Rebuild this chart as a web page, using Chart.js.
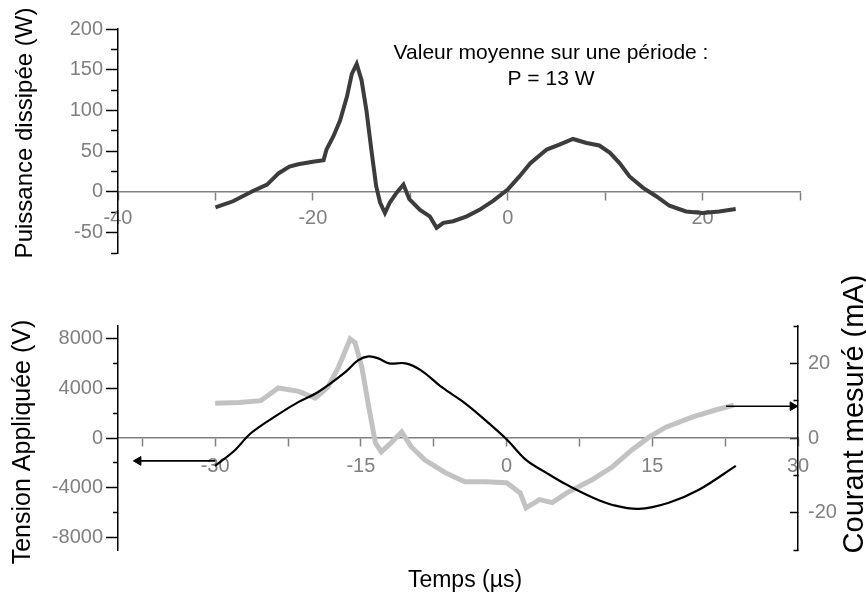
<!DOCTYPE html>
<html><head><meta charset="utf-8">
<script src="https://cdn.jsdelivr.net/npm/chart.js@4/dist/chart.umd.min.js"></script>
<style>
html,body{margin:0;padding:0;background:#fff;}
#wrap{position:relative;width:866px;height:594px;overflow:hidden;}
canvas{position:absolute;left:0;}
#c1{top:0}
#c2{top:262px}
</style></head><body>
<div id="wrap"><canvas id="c2" width="866" height="332"></canvas><canvas id="c1" width="866" height="290"></canvas></div>
<script>
// ---------- Data: top panel (dissipated power) ----------
const powerTime = [-30, -28.2, -26.2, -24.7, -23.5, -22.4, -21.5, -20, -18.9, -18.6, -17.9, -17.2, -16.5, -16, -15.5, -15, -14.5, -14, -13.5, -13.1, -12.6, -12.1, -11.4, -10.7, -10.1, -9, -8, -7.3, -6.6, -5.6, -4.2, -2.9, -1.5, 0, 1.2, 2.3, 4, 5.3, 6.7, 8.1, 9.4, 10.5, 11.5, 12.5, 13.9, 15.2, 16.6, 18.3, 20, 21.7, 23.4];
const powerW    = [-19, -11.5, 0.8, 9, 23, 31, 34, 37, 39, 52, 68, 88, 117, 145, 157, 137, 100, 52, 7, -13, -26, -13, -1, 9, -9, -22, -30, -44, -38, -36, -30, -22, -11, 3, 19, 35, 52, 58, 65, 60, 57, 48, 35, 19, 5, -5, -17, -24, -26, -24, -21];

// ---------- Data: bottom panel ----------
const voltTime = [-30, -28, -26.3, -23.5, -21.4, -19.4, -16.6, -15.3, -14.2, -13.2, -12.1, -10.4, -8.8, -6.7, -4.3, -2.2, 0, 2, 4.1, 6.2, 8.9, 11, 13.6, 16.7, 19.8, 23.6];
const voltV    = [-2240, -1000, 400, 1900, 2900, 3700, 5300, 6240, 6560, 6400, 6000, 6000, 5440, 4100, 2800, 1440, -100, -1760, -2800, -3760, -4800, -5400, -5700, -5200, -4160, -2240];

const currTime = [-30, -27.5, -25.3, -23.5, -21.4, -19.7, -18.4, -17.3, -16.1, -15.6, -14.9, -14.2, -13.5, -12.9, -11.9, -10.8, -9.8, -8.4, -6.3, -4.3, -2.2, 0, 1.4, 2, 3.4, 4.7, 6.2, 8.8, 10.9, 12.9, 14.7, 16.4, 19.1, 21.5, 23.4];
const currmA   = [9.3, 9.5, 10, 13.4, 12.5, 10.7, 13.6, 19, 26.5, 25.5, 19, 8.5, -1.3, -3.7, -1.3, 1.6, -2.4, -5.9, -9.3, -11.7, -11.7, -12, -14.7, -18.7, -16.5, -17.3, -14.7, -11.2, -7.7, -3.2, 0.3, 2.9, 5.6, 7.5, 8.8];

// Arrows (which axis each curve belongs to)
const arrowVoltTime = [-30, -37.9];
const arrowVoltV = [-1840, -1840];
const arrowCurrTime = [22.6, 29.45];
const arrowCurrmA = [8.5, 8.5];

// ---------- Ticks ----------
const topXTicks = [-40, -30, -20, -10, 0, 10, 20, 30];
const topXLabels = [-40, -20, 0, 20];
const topYTicks = [-75, -50, -25, 0, 25, 50, 75, 100, 125, 150, 175, 200];
const topYLabels = [-50, 0, 50, 100, 150, 200];
const botXTicks = [-37.5, -30, -22.5, -15, -7.5, 0, 7.5, 15, 22.5, 30];
const botXLabels = [-30, -15, 0, 15, 30];
const voltTicks = [-8000, -6000, -4000, -2000, 0, 2000, 4000, 6000, 8000];
const voltLabels = [-8000, -4000, 0, 4000, 8000];
const currTicks = [-30, -20, -10, 0, 10, 20, 30];
const currLabels = [-20, 0, 20];

const toXY = (xs, ys) => xs.map((x, i) => ({x: x, y: ys[i]}));
const setTicks = list => (scale => { scale.ticks = list.map(v => ({value: v})); });
const labeler = list => (v => list.includes(v) ? String(v) : '');
const minorDash = (list, dash) => (ctx => (ctx.tick && !list.includes(ctx.tick.value)) ? dash : []);

const FONT = '"Liberation Sans", Arial, sans-serif';
Chart.defaults.font.family = FONT;
const GRAY = '#808080';

const textPlugin = {
  id: 'texts',
  afterDraw(chart, args, opts) {
    const ctx = chart.ctx;
    (opts.items || []).forEach(it => {
      ctx.save();
      ctx.font = it.font;
      ctx.fillStyle = it.color || '#000';
      ctx.textAlign = 'center';
      ctx.textBaseline = it.baseline || 'middle';
      ctx.translate(it.x, it.y);
      if (it.rotate) ctx.rotate(it.rotate);
      ctx.fillText(it.text, 0, 0);
      ctx.restore();
    });
  }
};

const tickFont = {family: FONT, size: 20};

// ---------- Top chart ----------
new Chart(document.getElementById('c1'), {
  type: 'line',
  data: {
    datasets: [{
      data: toXY(powerTime, powerW),
      borderColor: '#3c3c3c',
      borderWidth: 4,
      pointRadius: 0,
      tension: 0
    }]
  },
  options: {
    responsive: false,
    animation: false,
    events: [],
    layout: {padding: {left: 0, right: 66, top: 29, bottom: 37}},
    plugins: {
      legend: {display: false},
      tooltip: {enabled: false},
      texts: {items: [
        {text: 'Puissance dissipée (W)', x: 25, y: 133, rotate: -Math.PI / 2, font: '24px ' + FONT},
        {text: 'Valeur moyenne sur une période :', x: 551, y: 59, baseline: 'alphabetic', font: '21px ' + FONT},
        {text: 'P = 13 W', x: 551, y: 85, baseline: 'alphabetic', font: '21px ' + FONT}
      ]}
    },
    scales: {
      x: {
        type: 'linear', min: -40, max: 30,
        position: {y: 0},
        afterBuildTicks: setTicks(topXTicks),
        border: {display: true, color: GRAY, width: 1.5},
        grid: {drawOnChartArea: false, drawTicks: true, tickLength: 8, tickColor: GRAY, tickWidth: 1.5},
        ticks: {callback: labeler(topXLabels), color: GRAY, font: tickFont, padding: 7, autoSkip: false, maxRotation: 0}
      },
      y: {
        type: 'linear', min: -75, max: 200,
        position: 'left',
        afterBuildTicks: setTicks(topYTicks),
        afterFit: s => { s.width = 118; },
        border: {display: true, color: '#000', width: 1.5},
        grid: {drawOnChartArea: false, drawTicks: true, tickLength: 12, tickColor: '#000', tickWidth: 1.5,
               tickBorderDash: minorDash(topYLabels, [0, 5, 7, 100])},
        ticks: {callback: labeler(topYLabels), color: GRAY, font: tickFont, padding: 3, autoSkip: false}
      }
    }
  },
  plugins: [textPlugin]
});

// ---------- Bottom chart ----------
new Chart(document.getElementById('c2'), {
  type: 'line',
  data: {
    datasets: [
      {
        data: toXY(voltTime, voltV), yAxisID: 'yV', order: 0,
        borderColor: '#000', borderWidth: 2.2, pointRadius: 0, tension: 0.35
      },
      {
        data: toXY(currTime, currmA), yAxisID: 'yI', order: 1,
        borderColor: '#c2c2c2', borderWidth: 5, pointRadius: 0, tension: 0
      },
      {
        data: toXY(arrowVoltTime, arrowVoltV), yAxisID: 'yV', order: 0, clip: false,
        borderColor: '#000', borderWidth: 1.6, tension: 0,
        pointRadius: [0, 5], pointStyle: 'triangle', pointRotation: -90,
        pointBackgroundColor: '#000', pointBorderColor: '#000', pointBorderWidth: 1
      },
      {
        data: toXY(arrowCurrTime, arrowCurrmA), yAxisID: 'yI', order: 0, clip: false,
        borderColor: '#000', borderWidth: 1.6, tension: 0,
        pointRadius: [0, 5], pointStyle: 'triangle', pointRotation: 90,
        pointBackgroundColor: '#000', pointBorderColor: '#000', pointBorderWidth: 1
      }
    ]
  },
  options: {
    responsive: false,
    animation: false,
    events: [],
    layout: {padding: {left: 0, right: 0, top: 64, bottom: 44}},
    plugins: {
      legend: {display: false},
      tooltip: {enabled: false},
      texts: {items: [
        {text: 'Tension Appliquée (V)', x: 23, y: 180, rotate: -Math.PI / 2, font: '25px ' + FONT},
        {text: 'Courant mesuré (mA)', x: 855, y: 152, rotate: -Math.PI / 2, font: '29px ' + FONT},
        {text: 'Temps (µs)', x: 465, y: 325, baseline: 'alphabetic', font: '23px ' + FONT}
      ]}
    },
    scales: {
      x: {
        type: 'linear', min: -40, max: 30,
        position: {yV: 0},
        afterBuildTicks: setTicks(botXTicks),
        border: {display: true, color: GRAY, width: 1.5},
        grid: {drawOnChartArea: false, drawTicks: true, tickLength: 8, tickColor: GRAY, tickWidth: 1.5},
        ticks: {callback: labeler(botXLabels), color: GRAY, font: tickFont, padding: 8, autoSkip: false, maxRotation: 0}
      },
      yV: {
        type: 'linear', min: -9000, max: 9000,
        position: 'left',
        afterBuildTicks: setTicks(voltTicks),
        afterFit: s => { s.width = 118; },
        border: {display: true, color: '#000', width: 1.5},
        grid: {drawOnChartArea: false, drawTicks: true, tickLength: 12, tickColor: '#000', tickWidth: 1.5,
               tickBorderDash: minorDash(voltLabels, [0, 7, 5, 100])},
        ticks: {callback: labeler(voltLabels), color: GRAY, font: tickFont, padding: 3, autoSkip: false}
      },
      yI: {
        type: 'linear', min: -30, max: 30,
        position: 'right',
        afterBuildTicks: setTicks(currTicks),
        afterFit: s => { s.width = 68; },
        border: {display: true, color: '#000', width: 1.5},
        grid: {drawOnChartArea: false, drawTicks: true, tickLength: -8, tickColor: '#000', tickWidth: 1.5,
               tickBorderDash: minorDash(currLabels, [5, 100])},
        ticks: {callback: labeler(currLabels), color: GRAY, font: tickFont, padding: 18, autoSkip: false}
      }
    }
  },
  plugins: [textPlugin]
});
</script>
</body></html>
